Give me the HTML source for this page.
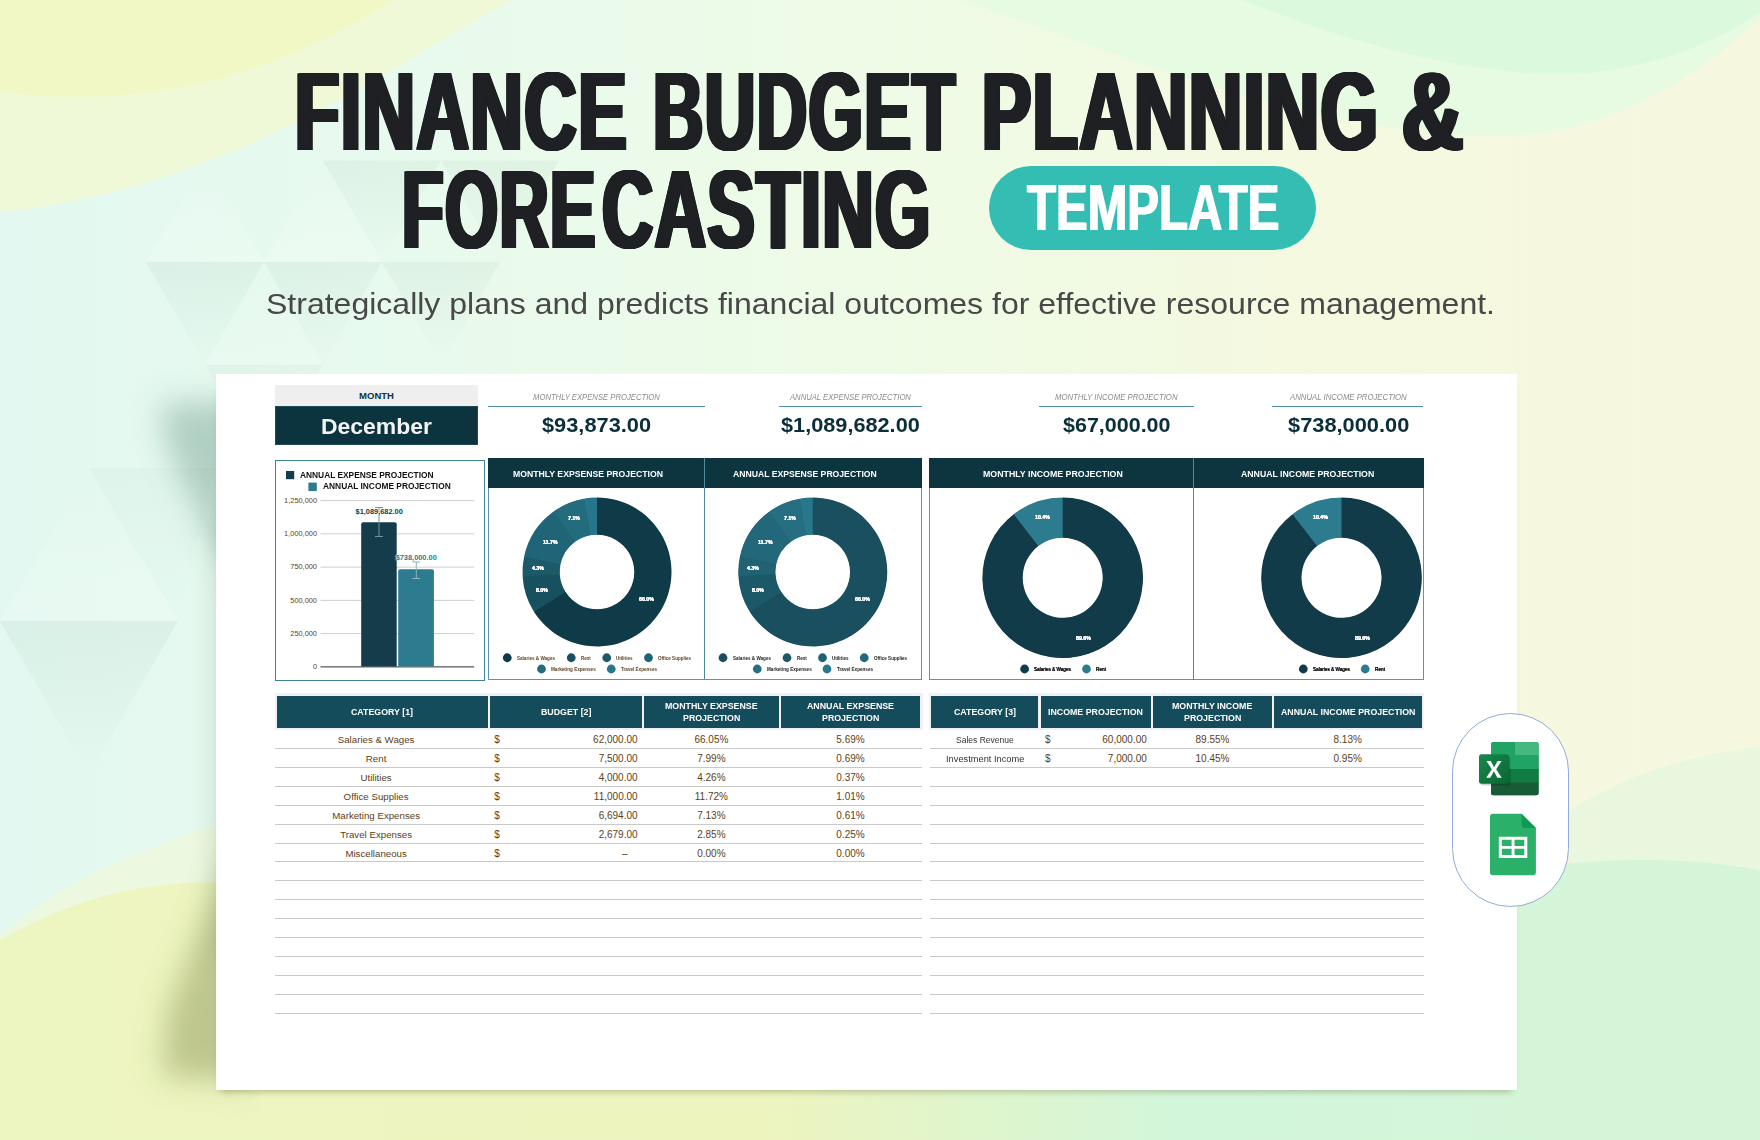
<!DOCTYPE html>
<html><head><meta charset="utf-8"><title>Finance Budget Planning &amp; Forecasting Template</title>
<style>
html,body{margin:0;padding:0}
body{width:1760px;height:1140px;overflow:hidden;position:relative;font-family:"Liberation Sans",sans-serif;background:#eefae8}
.abs,.t,svg.l{position:absolute}
.t{white-space:nowrap;line-height:1;transform-origin:0 50%}
.title{text-shadow:1px 0 0 #1f2024,-1px 0 0 #1f2024,2px 0 0 #1f2024,-2px 0 0 #1f2024,3px 0 0 #1f2024,-3px 0 0 #1f2024,3.7px 0 0 #1f2024,-3.7px 0 0 #1f2024}
.tmpl{text-shadow:1px 0 0 #fff,-1px 0 0 #fff}
.bd{text-shadow:.25px 0 0 currentColor,-.25px 0 0 currentColor}
.halo{text-shadow:0 0 1px #fff,0 0 1px #fff,0 0 2px #fff}
.hc{background:#154c5b}
.ln{position:absolute;height:1px;background:#c9c9c9}
</style></head><body>
<svg class="l" style="left:0;top:0" width="1760" height="1140" viewBox="0 0 1760 1140">
<defs>
<linearGradient id="base" x1="0" y1="0" x2="1" y2="0">
<stop offset="0" stop-color="#e2f8f0"/><stop offset="0.22" stop-color="#e8faee"/><stop offset="0.5" stop-color="#eefbe6"/><stop offset="0.72" stop-color="#f4f9e0"/><stop offset="1" stop-color="#f6f8de"/>
</linearGradient>
<linearGradient id="bot" gradientUnits="userSpaceOnUse" x1="0" y1="0" x2="1760" y2="0">
<stop offset="0" stop-color="#edf5c1"/><stop offset="0.43" stop-color="#eef4be"/><stop offset="0.67" stop-color="#d2f6da"/><stop offset="1" stop-color="#d6f5d8"/>
</linearGradient>
</defs>
<rect width="1760" height="1140" fill="url(#base)"/>
<path d="M0,0 H513 C400,60 230,190 0,212 Z" fill="#eff9d8"/>
<path d="M0,92 C100,104 240,100 393,0 L0,0 Z" fill="#f2f8c5"/>
<path d="M960,0 C1100,45 1300,136 1500,136 C1620,136 1715,62 1760,18 L1760,0 Z" fill="#e7fbe3"/>
<path d="M1243,0 C1330,35 1450,74 1560,74 C1650,73 1720,40 1760,12 L1760,0 Z" fill="#dbf9dc"/>
<path d="M1440,905 C1510,845 1590,792 1647,772.6 C1690,757 1730,750 1760,747 L1760,1140 L1440,1140 Z" fill="#e8f7de"/>
<path d="M0,934.7 C40,900 110,858 215,825 L700,700 L700,1140 L0,1140 Z" fill="#ecf8e0"/>
<path d="M0,940 C50,912 110,886 190,883 C500,872 900,880 1200,900 C1350,905 1480,862 1640,860 C1690,860 1730,864 1760,870.5 L1760,1140 L0,1140 Z" fill="url(#bot)"/>
<defs>
<linearGradient id="gd" x1="0" y1="0" x2="0" y2="1"><stop offset="0" stop-color="#5f8f7a" stop-opacity=".075"/><stop offset="1" stop-color="#5f8f7a" stop-opacity="0"/></linearGradient>
<linearGradient id="gu" x1="0" y1="1" x2="0" y2="0"><stop offset="0" stop-color="#fff" stop-opacity=".2"/><stop offset="1" stop-color="#fff" stop-opacity="0"/></linearGradient>
<linearGradient id="gy" x1="0" y1="0" x2="0" y2="1"><stop offset="0" stop-color="#8a9a50" stop-opacity=".10"/><stop offset="1" stop-color="#8a9a50" stop-opacity="0"/></linearGradient>
</defs>
<g>
<path d="M146,262 H264 L205,365 Z" fill="url(#gd)"/>
<path d="M264,262 H382 L323,365 Z" fill="url(#gd)"/>
<path d="M382,262 H500 L441,365 Z" fill="url(#gd)"/>
<path d="M323,160.5 H441 L382,262 Z" fill="url(#gd)"/>
<path d="M441,160.500 H559 L500,262 Z" fill="url(#gd)"/>
<path d="M205,365 H323 L264,467 Z" fill="url(#gd)" opacity=".6"/>
<path d="M146,262 L205,160.5 L264,262 Z" fill="url(#gu)"/>
<path d="M264,262 L323,160.5 L382,262 Z" fill="url(#gu)"/>
<path d="M205,365 L264,262 L323,365 Z" fill="url(#gu)" opacity=".6"/>
<path d="M0,621 H178 L89,775 Z" fill="url(#gd)"/>
<path d="M0,621 L89,468 L178,621 Z" fill="url(#gu)"/>
<path d="M89,468 H215 L178,621 Z" fill="url(#gd)" opacity=".5"/>
<path d="M1000,245 H1290 L1145,0 Z" fill="url(#gu)" opacity=".35"/>
</g>
</svg>
<svg class="l" style="left:0;top:0" width="260" height="1140" viewBox="0 0 260 1140">
<defs><filter id="bl" x="-60%" y="-20%" width="220%" height="140%"><feGaussianBlur stdDeviation="15"/></filter><filter id="bl2" x="-60%" y="-20%" width="220%" height="140%"><feGaussianBlur stdDeviation="9"/></filter></defs>
<path d="M250,400 L250,590 L212,540 L168,450 L160,404 Z" fill="#5c8c78" fill-opacity=".38" filter="url(#bl)"/>
<path d="M250,1082 L250,825 L212,900 L168,1010 L162,1076 Z" fill="#7a8540" fill-opacity=".42" filter="url(#bl)"/>
<rect x="208" y="520" width="30" height="440" fill="#5a7d5a" fill-opacity=".13" filter="url(#bl2)"/>
</svg>
<div class="abs" style="left:215.5px;top:374px;width:1301px;height:716px;background:#fff;box-shadow:0 6px 7px -5px rgba(90,100,40,.45)"></div>
<div class="abs" style="left:275px;top:385px;width:202.5px;height:21px;background:#efefef"></div>
<div class="abs" style="left:275px;top:406px;width:202.5px;height:38.5px;background:#0b343f;box-shadow:inset 0 0 0 1px #1d4a56"></div>
<div class="abs" style="left:488.2px;top:406px;width:216.5px;height:1px;background:#4c8fa3"></div>
<div class="abs" style="left:779.2px;top:406px;width:142.6px;height:1px;background:#4c8fa3"></div>
<div class="abs" style="left:1039px;top:406px;width:154.6px;height:1px;background:#4c8fa3"></div>
<div class="abs" style="left:1272.2px;top:406px;width:151.3px;height:1px;background:#4c8fa3"></div>
<div class="abs" style="left:275px;top:460px;width:208px;height:218.5px;border:1px solid #3f8398;background:#fff"></div>
<div class="abs" style="left:488px;top:458px;width:432.2px;height:219.8px;border:1px solid #5d95a6;background:#fff"></div>
<div class="abs" style="left:488px;top:458px;width:434.2px;height:30.3px;background:#0c3540"></div>
<div class="abs" style="left:704.2px;top:458px;width:1px;height:221px;background:#4f8a9c"></div>
<div class="abs" style="left:929px;top:458px;width:493.2px;height:220px;border:1px solid #5d95a6;background:#fff"></div>
<div class="abs" style="left:929px;top:458px;width:495.2px;height:30.3px;background:#0c3540"></div>
<div class="abs" style="left:1192.6px;top:458px;width:1px;height:221.5px;background:#4f8a9c"></div>
<svg class="l" style="left:0;top:0" width="1760" height="1140" viewBox="0 0 1760 1140">
<rect x="286" y="471" width="8.2" height="8.2" fill="#143c4a"/>
<rect x="308.4" y="482.6" width="8.4" height="8.4" fill="#2d7b8f"/>
<rect x="320.5" y="500.1" width="153.7" height="1" fill="#cfcfcf"/>
<rect x="320.5" y="533.36" width="153.7" height="1" fill="#cfcfcf"/>
<rect x="320.5" y="566.62" width="153.7" height="1" fill="#cfcfcf"/>
<rect x="320.5" y="599.88" width="153.7" height="1" fill="#cfcfcf"/>
<rect x="320.5" y="633.14" width="153.7" height="1" fill="#cfcfcf"/>
<rect x="320.5" y="666" width="153.7" height="1.6" fill="#7d7d7d"/>
<path d="M361.2,666.5 V524.2 a2,2 0 0 1 2,-2 H394.7 a2,2 0 0 1 2,2 V666.5 Z" fill="#143c4a"/>
<path d="M398.2,666.5 V571.2 a2,2 0 0 1 2,-2 H431.9 a2,2 0 0 1 2,2 V666.5 Z" fill="#2d7b8f"/>
<path d="M379,507.5 V536.5 M375,507.5 H383 M375,536.5 H383" stroke="#6f979f" stroke-width="1" fill="none"/>
<path d="M416.3,562 V578.5 M412.3,562 H420.3 M412.3,578.5 H420.3" stroke="#8db4bd" stroke-width="1" fill="none"/>
<circle cx="597" cy="572" r="55.875" fill="none" stroke="#1b5362" stroke-width="36.05"/>
<path d="M597,497.5 A74.5,74.5 0 1 1 533.98,611.73 L565.49,591.87 A37.25,37.25 0 1 0 597,534.75 Z" fill="#0f3a47"/>
<path d="M533.98,611.73 A74.5,74.5 0 0 1 522.64,576.51 L559.82,574.25 A37.25,37.25 0 0 0 565.49,591.87 Z" fill="#17505f"/>
<path d="M522.64,576.51 A74.5,74.5 0 0 1 524.09,556.68 L560.55,564.34 A37.25,37.25 0 0 0 559.82,574.25 Z" fill="#1c5a69"/>
<path d="M524.09,556.68 A74.5,74.5 0 0 1 553.27,511.69 L575.13,541.84 A37.25,37.25 0 0 0 560.55,564.34 Z" fill="#206577"/>
<path d="M553.27,511.69 A74.5,74.5 0 0 1 583.71,498.69 L590.36,535.35 A37.25,37.25 0 0 0 575.13,541.84 Z" fill="#236c7e"/>
<path d="M583.71,498.69 A74.5,74.5 0 0 1 597,497.5 L597,534.75 A37.25,37.25 0 0 0 590.36,535.35 Z" fill="#27758a"/>
<circle cx="812.75" cy="572" r="55.875" fill="none" stroke="#1b5362" stroke-width="36.05"/>
<path d="M812.75,497.5 A74.5,74.5 0 1 1 749.73,611.73 L781.24,591.87 A37.25,37.25 0 1 0 812.75,534.75 Z" fill="#194f5e"/>
<path d="M749.73,611.73 A74.5,74.5 0 0 1 738.39,576.51 L775.57,574.25 A37.25,37.25 0 0 0 781.24,591.87 Z" fill="#1c5968"/>
<path d="M738.39,576.51 A74.5,74.5 0 0 1 739.84,556.68 L776.3,564.34 A37.25,37.25 0 0 0 775.57,574.25 Z" fill="#206172"/>
<path d="M739.84,556.68 A74.5,74.5 0 0 1 769.02,511.69 L790.88,541.84 A37.25,37.25 0 0 0 776.3,564.34 Z" fill="#23687a"/>
<path d="M769.02,511.69 A74.5,74.5 0 0 1 799.46,498.69 L806.11,535.35 A37.25,37.25 0 0 0 790.88,541.84 Z" fill="#266f82"/>
<path d="M799.46,498.69 A74.5,74.5 0 0 1 812.75,497.5 L812.75,534.75 A37.25,37.25 0 0 0 806.11,535.35 Z" fill="#29778b"/>
<circle cx="1062.7" cy="577.8" r="60.15" fill="none" stroke="#113b49" stroke-width="39.099999999999994"/>
<path d="M1062.7,497.5 A80.3,80.3 0 1 1 1013.69,514.19 L1038.29,546.11 A40,40 0 1 0 1062.7,537.8 Z" fill="#113b49"/>
<path d="M1013.69,514.19 A80.3,80.3 0 0 1 1062.7,497.5 L1062.7,537.8 A40,40 0 0 0 1038.29,546.11 Z" fill="#2d7b8f"/>
<circle cx="1341.5" cy="577.8" r="60.15" fill="none" stroke="#113b49" stroke-width="39.099999999999994"/>
<path d="M1341.5,497.5 A80.3,80.3 0 1 1 1292.49,514.19 L1317.09,546.11 A40,40 0 1 0 1341.5,537.8 Z" fill="#113b49"/>
<path d="M1292.49,514.19 A80.3,80.3 0 0 1 1341.5,497.5 L1341.5,537.8 A40,40 0 0 0 1317.09,546.11 Z" fill="#2d7b8f"/>
<circle cx="507.25" cy="657.75" r="4.4" fill="#0f3a47"/>
<circle cx="571.25" cy="657.75" r="4.4" fill="#17505f"/>
<circle cx="606.75" cy="657.75" r="4.4" fill="#1c5a69"/>
<circle cx="648.5" cy="657.75" r="4.4" fill="#206577"/>
<circle cx="541.5" cy="669" r="4.4" fill="#236c7e"/>
<circle cx="611.25" cy="669" r="4.4" fill="#27758a"/>
<circle cx="723" cy="657.75" r="4.4" fill="#194f5e"/>
<circle cx="787" cy="657.75" r="4.4" fill="#1c5968"/>
<circle cx="822.5" cy="657.75" r="4.4" fill="#206172"/>
<circle cx="864.25" cy="657.75" r="4.4" fill="#23687a"/>
<circle cx="757.25" cy="669" r="4.4" fill="#266f82"/>
<circle cx="827" cy="669" r="4.4" fill="#29778b"/>
<circle cx="1024.6" cy="669" r="4.4" fill="#113b49"/>
<circle cx="1086.5" cy="669" r="4.4" fill="#2d7b8f"/>
<circle cx="1303.3" cy="669" r="4.4" fill="#113b49"/>
<circle cx="1365.2" cy="669" r="4.4" fill="#2d7b8f"/>
</svg>
<div class="abs" style="left:274.5px;top:692.7px;width:648.2px;height:37.5px;background:#f1f1f1"></div>
<div class="abs" style="left:929px;top:692.7px;width:495px;height:37.5px;background:#f1f1f1"></div>
<div class="abs hc" style="left:276.8px;top:695.6px;width:210.9px;height:32.4px"></div>
<div class="abs hc" style="left:490px;top:695.6px;width:151.8px;height:32.4px"></div>
<div class="abs hc" style="left:644.3px;top:695.6px;width:134.6px;height:32.4px"></div>
<div class="abs hc" style="left:781.1px;top:695.6px;width:139.4px;height:32.4px"></div>
<div class="abs hc" style="left:931.1px;top:695.6px;width:107.1px;height:32.4px"></div>
<div class="abs hc" style="left:1040.7px;top:695.6px;width:110.2px;height:32.4px"></div>
<div class="abs hc" style="left:1153.4px;top:695.6px;width:118.2px;height:32.4px"></div>
<div class="abs hc" style="left:1274.1px;top:695.6px;width:147.7px;height:32.4px"></div>
<div class="ln" style="left:275px;top:748px;width:646.8px"></div>
<div class="ln" style="left:929.5px;top:748px;width:494px"></div>
<div class="ln" style="left:275px;top:766.9px;width:646.8px"></div>
<div class="ln" style="left:929.5px;top:766.9px;width:494px"></div>
<div class="ln" style="left:275px;top:785.8px;width:646.8px"></div>
<div class="ln" style="left:929.5px;top:785.8px;width:494px"></div>
<div class="ln" style="left:275px;top:804.7px;width:646.8px"></div>
<div class="ln" style="left:929.5px;top:804.7px;width:494px"></div>
<div class="ln" style="left:275px;top:823.6px;width:646.8px"></div>
<div class="ln" style="left:929.5px;top:823.6px;width:494px"></div>
<div class="ln" style="left:275px;top:842.5px;width:646.8px"></div>
<div class="ln" style="left:929.5px;top:842.5px;width:494px"></div>
<div class="ln" style="left:275px;top:861.4px;width:646.8px"></div>
<div class="ln" style="left:929.5px;top:861.4px;width:494px"></div>
<div class="ln" style="left:275px;top:880.3px;width:646.8px"></div>
<div class="ln" style="left:929.5px;top:880.3px;width:494px"></div>
<div class="ln" style="left:275px;top:899.2px;width:646.8px"></div>
<div class="ln" style="left:929.5px;top:899.2px;width:494px"></div>
<div class="ln" style="left:275px;top:918.1px;width:646.8px"></div>
<div class="ln" style="left:929.5px;top:918.1px;width:494px"></div>
<div class="ln" style="left:275px;top:937px;width:646.8px"></div>
<div class="ln" style="left:929.5px;top:937px;width:494px"></div>
<div class="ln" style="left:275px;top:955.9px;width:646.8px"></div>
<div class="ln" style="left:929.5px;top:955.9px;width:494px"></div>
<div class="ln" style="left:275px;top:974.8px;width:646.8px"></div>
<div class="ln" style="left:929.5px;top:974.8px;width:494px"></div>
<div class="ln" style="left:275px;top:993.7px;width:646.8px"></div>
<div class="ln" style="left:929.5px;top:993.7px;width:494px"></div>
<div class="ln" style="left:275px;top:1012.6px;width:646.8px"></div>
<div class="ln" style="left:929.5px;top:1012.6px;width:494px"></div>
<div class="abs" style="left:1452px;top:713px;width:115px;height:192px;border:1px solid #93abd9;border-radius:58.5px;background:#fff"></div>
<svg class="l" style="left:1475px;top:738px" width="70" height="62" viewBox="0 0 70 62">
<defs><linearGradient id="xg" x1="0" y1="0" x2="1" y2="1"><stop offset="0" stop-color="#18884f"/><stop offset="1" stop-color="#0b6631"/></linearGradient></defs>
<rect x="16" y="4" width="47.6" height="53.3" rx="2.5" fill="#1a8a50"/>
<path d="M16,6.5 a2.5,2.5 0 0 1 2.500,-2.500 H40.3 V31.3 H16 Z" fill="#21a366"/>
<path d="M40,4 H61.1 a2.5,2.5 0 0 1 2.500,2.500 V17.500 H40 Z" fill="#45b880"/>
<rect x="40" y="17.3" width="23.6" height="14" fill="#21a366"/>
<rect x="16" y="31" width="47.6" height="13.800" fill="#107c41"/>
<path d="M16,44.5 H63.6 V54.8 a2.5,2.5 0 0 1 -2.500,2.500 H18.500 a2.5,2.5 0 0 1 -2.500,-2.500 Z" fill="#185c37"/>
<rect x="5.5" y="18" width="30" height="29.500" rx="2.500" fill="rgba(0,0,0,.18)"/>
<rect x="4" y="16.200" width="30" height="29.500" rx="2.500" fill="url(#xg)"/>
<path d="M11.500,23 h4.200 l3.400,6.300 l3.500,-6.300 h4 l-5.400,8.300 l5.500,8.400 h-4.300 l-3.500,-6.500 l-3.600,6.500 h-4.100 l5.600,-8.500 Z" fill="#fff"/>
</svg>
<svg class="l" style="left:1488px;top:812px" width="50" height="66" viewBox="0 0 50 66">
<path d="M2,4.800 a3,3 0 0 1 3,-3 H33.600 L47.900,16 V60.300 a3,3 0 0 1 -3,3 H5 a3,3 0 0 1 -3,-3 Z" fill="#2bb06a"/>
<path d="M33.600,1.800 L47.900,16 H36.600 a3,3 0 0 1 -3,-3 Z" fill="#0f9a54"/>
<path d="M10.800,24.700 H39.300 V46 H10.800 Z M13.800,27.700 V34 H23.600 V27.700 Z M26.500,27.700 V34 H36.300 V27.700 Z M13.800,36.800 V43 H23.600 V36.800 Z M26.500,36.800 V43 H36.300 V36.800 Z" fill="#fff" fill-rule="evenodd"/>
</svg>
<div class="abs" style="left:989.3px;top:165.7px;width:326.7px;height:84.3px;border-radius:42.2px;background:#33bdb3"></div>
<span class="t title" style="left:295.01px;top:56px;font-size:112px;color:#1f2024;font-weight:700;letter-spacing:2.5px;transform:scaleX(0.6467);">FINANCE</span>
<span class="t title" style="left:652.51px;top:56px;font-size:112px;color:#1f2024;font-weight:700;letter-spacing:2.5px;transform:scaleX(0.6220);">BUDGET</span>
<span class="t title" style="left:981.98px;top:56px;font-size:112px;color:#1f2024;font-weight:700;letter-spacing:2.5px;transform:scaleX(0.6572);">PLANNING</span>
<span class="t title" style="left:1402.27px;top:56px;font-size:112px;color:#1f2024;font-weight:700;letter-spacing:2.5px;transform:scaleX(0.7544);">&amp;</span>
<span class="t title" style="left:402.2px;top:154px;font-size:112px;color:#1f2024;font-weight:700;letter-spacing:2.5px;transform:scaleX(0.6072);">FORE</span>
<span class="t title" style="left:601.5px;top:154px;font-size:112px;color:#1f2024;font-weight:700;letter-spacing:2.5px;transform:scaleX(0.6324);">CASTING</span>
<span class="t tmpl" style="left:1027px;top:175.6px;font-size:64px;color:#fff;font-weight:700;transform:scaleX(0.7424);">TEMPLATE</span>
<span class="t" style="left:266.3px;top:288.6px;font-size:30px;color:#484848;transform:scaleX(1.0671);">Strategically plans and predicts financial outcomes for effective resource management.</span>
<span class="t" style="left:359.09px;top:391.05px;font-size:9.5px;color:#0b3440;font-weight:700;">MONTH</span>
<span class="t" style="left:321px;top:416px;font-size:22px;color:#f4f4f4;font-weight:700;transform:scaleX(1.0433);">December</span>
<span class="t" style="left:533.2px;top:392.6px;font-size:9px;color:#8a8a8a;font-style:italic;transform:scaleX(0.8536);">MONTHLY EXPENSE PROJECTION</span>
<span class="t" style="left:790px;top:392.6px;font-size:9px;color:#8a8a8a;font-style:italic;transform:scaleX(0.8522);">ANNUAL EXPENSE PROJECTION</span>
<span class="t" style="left:1055px;top:392.6px;font-size:9px;color:#8a8a8a;font-style:italic;transform:scaleX(0.8625);">MONTHLY INCOME PROJECTION</span>
<span class="t" style="left:1289.6px;top:392.6px;font-size:9px;color:#8a8a8a;font-style:italic;transform:scaleX(0.8621);">ANNUAL INCOME PROJECTION</span>
<span class="t" style="left:542.2px;top:414.8px;font-size:20.6px;color:#0b2f3a;font-weight:700;transform:scaleX(1.0584);">$93,873.00</span>
<span class="t" style="left:781.3px;top:414.8px;font-size:20.6px;color:#0b2f3a;font-weight:700;transform:scaleX(1.0539);">$1,089,682.00</span>
<span class="t" style="left:1062.7px;top:414.8px;font-size:20.6px;color:#0b2f3a;font-weight:700;transform:scaleX(1.0429);">$67,000.00</span>
<span class="t" style="left:1287.7px;top:414.8px;font-size:20.6px;color:#0b2f3a;font-weight:700;transform:scaleX(1.0591);">$738,000.00</span>
<span class="t" style="left:513px;top:468.6px;font-size:9.8px;color:#fff;font-weight:700;transform:scaleX(0.8859);">MONTHLY EXPSENSE PROJECTION</span>
<span class="t" style="left:732.5px;top:468.6px;font-size:9.8px;color:#fff;font-weight:700;transform:scaleX(0.8811);">ANNUAL EXPSENSE PROJECTION</span>
<span class="t" style="left:983.2px;top:468.7px;font-size:9.8px;color:#fff;font-weight:700;transform:scaleX(0.8980);">MONTHLY INCOME PROJECTION</span>
<span class="t" style="left:1241.2px;top:468.7px;font-size:9.8px;color:#fff;font-weight:700;transform:scaleX(0.8909);">ANNUAL INCOME PROJECTION</span>
<span class="t" style="left:300.3px;top:470.6px;font-size:8.8px;color:#111;font-weight:700;transform:scaleX(0.9500);">ANNUAL EXPENSE PROJECTION</span>
<span class="t" style="left:322.9px;top:482.2px;font-size:8.8px;color:#111;font-weight:700;transform:scaleX(0.9512);">ANNUAL INCOME PROJECTION</span>
<span class="t" style="left:284.11px;top:496.9px;font-size:7.4px;color:#5c3e20;">1,250,000</span>
<span class="t" style="left:284.11px;top:530.16px;font-size:7.4px;color:#5c3e20;">1,000,000</span>
<span class="t" style="left:290.28px;top:563.42px;font-size:7.4px;color:#5c3e20;">750,000</span>
<span class="t" style="left:290.28px;top:596.68px;font-size:7.4px;color:#5c3e20;">500,000</span>
<span class="t" style="left:290.28px;top:629.94px;font-size:7.4px;color:#5c3e20;">250,000</span>
<span class="t" style="left:312.88px;top:663.2px;font-size:7.4px;color:#5c3e20;">0</span>
<span class="t halo" style="left:355.57px;top:507.8px;font-size:7.4px;color:#143c4a;font-weight:700;">$1,089,682.00</span>
<span class="t halo" style="left:395.65px;top:554.3px;font-size:7.4px;color:#2d7b8f;font-weight:700;">$738,000.00</span>
<span class="t bd" style="left:638.83px;top:597.3px;font-size:5.7px;color:#fff;font-weight:700;transform:scaleX(0.9200);">66.0%</span>
<span class="t bd" style="left:535.78px;top:588.05px;font-size:5.7px;color:#fff;font-weight:700;transform:scaleX(0.9200);">8.0%</span>
<span class="t bd" style="left:531.53px;top:565.8px;font-size:5.7px;color:#fff;font-weight:700;transform:scaleX(0.9200);">4.3%</span>
<span class="t bd" style="left:542.73px;top:539.55px;font-size:5.7px;color:#fff;font-weight:700;transform:scaleX(0.9200);">11.7%</span>
<span class="t bd" style="left:567.78px;top:515.55px;font-size:5.7px;color:#fff;font-weight:700;transform:scaleX(0.9200);">7.1%</span>
<span class="t" style="left:517px;top:655.8px;font-size:5.6px;color:#5c3e20;font-weight:700;transform:scaleX(0.8183);">Salaries &amp; Wages</span>
<span class="t" style="left:580.75px;top:655.8px;font-size:5.6px;color:#5c3e20;font-weight:700;transform:scaleX(0.7839);">Rent</span>
<span class="t" style="left:616px;top:655.8px;font-size:5.6px;color:#5c3e20;font-weight:700;transform:scaleX(0.8161);">Utilities</span>
<span class="t" style="left:658px;top:655.8px;font-size:5.6px;color:#5c3e20;font-weight:700;transform:scaleX(0.8104);">Office Supplies</span>
<span class="t" style="left:551px;top:666.7px;font-size:5.6px;color:#5c3e20;font-weight:700;transform:scaleX(0.8270);">Marketing Expenses</span>
<span class="t" style="left:621px;top:666.7px;font-size:5.6px;color:#5c3e20;font-weight:700;transform:scaleX(0.8208);">Travel Expenses</span>
<span class="t bd" style="left:854.58px;top:597.3px;font-size:5.7px;color:#fff;font-weight:700;transform:scaleX(0.9200);">66.0%</span>
<span class="t bd" style="left:751.53px;top:588.05px;font-size:5.7px;color:#fff;font-weight:700;transform:scaleX(0.9200);">8.0%</span>
<span class="t bd" style="left:747.28px;top:565.8px;font-size:5.7px;color:#fff;font-weight:700;transform:scaleX(0.9200);">4.3%</span>
<span class="t bd" style="left:758.48px;top:539.55px;font-size:5.7px;color:#fff;font-weight:700;transform:scaleX(0.9200);">11.7%</span>
<span class="t bd" style="left:783.53px;top:515.55px;font-size:5.7px;color:#fff;font-weight:700;transform:scaleX(0.9200);">7.1%</span>
<span class="t" style="left:732.75px;top:655.8px;font-size:5.6px;color:#1a1a1a;font-weight:700;transform:scaleX(0.8183);">Salaries &amp; Wages</span>
<span class="t" style="left:796.5px;top:655.8px;font-size:5.6px;color:#1a1a1a;font-weight:700;transform:scaleX(0.7839);">Rent</span>
<span class="t" style="left:831.75px;top:655.8px;font-size:5.6px;color:#1a1a1a;font-weight:700;transform:scaleX(0.8161);">Utilities</span>
<span class="t" style="left:873.75px;top:655.8px;font-size:5.6px;color:#1a1a1a;font-weight:700;transform:scaleX(0.8104);">Office Supplies</span>
<span class="t" style="left:766.75px;top:666.7px;font-size:5.6px;color:#1a1a1a;font-weight:700;transform:scaleX(0.8270);">Marketing Expenses</span>
<span class="t" style="left:836.75px;top:666.7px;font-size:5.6px;color:#1a1a1a;font-weight:700;transform:scaleX(0.8208);">Travel Expenses</span>
<span class="t bd" style="left:1034.58px;top:515.05px;font-size:5.7px;color:#fff;font-weight:700;transform:scaleX(0.9200);">10.4%</span>
<span class="t bd" style="left:1075.98px;top:636.05px;font-size:5.7px;color:#fff;font-weight:700;transform:scaleX(0.9200);">89.6%</span>
<span class="t bd" style="left:1034px;top:666.75px;font-size:5.7px;color:#111;transform:scaleX(0.8178);">Salaries &amp; Wages</span>
<span class="t bd" style="left:1096px;top:666.75px;font-size:5.7px;color:#111;transform:scaleX(0.8322);">Rent</span>
<span class="t bd" style="left:1313.38px;top:515.05px;font-size:5.7px;color:#fff;font-weight:700;transform:scaleX(0.9200);">10.4%</span>
<span class="t bd" style="left:1354.78px;top:636.05px;font-size:5.7px;color:#fff;font-weight:700;transform:scaleX(0.9200);">89.6%</span>
<span class="t bd" style="left:1312.8px;top:666.75px;font-size:5.7px;color:#111;transform:scaleX(0.8178);">Salaries &amp; Wages</span>
<span class="t bd" style="left:1374.8px;top:666.75px;font-size:5.7px;color:#111;transform:scaleX(0.8322);">Rent</span>
<span class="t" style="left:351.49px;top:707.1px;font-size:9.4px;color:#fff;font-weight:700;transform:scaleX(0.9400);">CATEGORY [1]</span>
<span class="t" style="left:540.78px;top:707.1px;font-size:9.4px;color:#fff;font-weight:700;transform:scaleX(0.9400);">BUDGET [2]</span>
<span class="t" style="left:665.32px;top:701px;font-size:9.4px;color:#fff;font-weight:700;transform:scaleX(0.9400);">MONTHLY EXPSENSE</span>
<span class="t" style="left:682.95px;top:712.9px;font-size:9.4px;color:#fff;font-weight:700;transform:scaleX(0.9400);">PROJECTION</span>
<span class="t" style="left:807.3px;top:701px;font-size:9.4px;color:#fff;font-weight:700;transform:scaleX(0.9400);">ANNUAL EXPSENSE</span>
<span class="t" style="left:822.15px;top:712.9px;font-size:9.4px;color:#fff;font-weight:700;transform:scaleX(0.9400);">PROJECTION</span>
<span class="t" style="left:953.69px;top:707.1px;font-size:9.4px;color:#fff;font-weight:700;transform:scaleX(0.9400);">CATEGORY [3]</span>
<span class="t" style="left:1048.3px;top:707.1px;font-size:9.4px;color:#fff;font-weight:700;transform:scaleX(0.9400);">INCOME PROJECTION</span>
<span class="t" style="left:1172.35px;top:701px;font-size:9.4px;color:#fff;font-weight:700;transform:scaleX(0.9400);">MONTHLY INCOME</span>
<span class="t" style="left:1183.85px;top:712.9px;font-size:9.4px;color:#fff;font-weight:700;transform:scaleX(0.9400);">PROJECTION</span>
<span class="t" style="left:1280.75px;top:707.1px;font-size:9.4px;color:#fff;font-weight:700;transform:scaleX(0.9400);">ANNUAL INCOME PROJECTION</span>
<span class="t" style="left:337.78px;top:735.35px;font-size:9.7px;color:#5c3e20;">Salaries &amp; Wages</span>
<span class="t" style="left:494.32px;top:735.2px;font-size:10px;color:#5c3e20;">$</span>
<span class="t" style="left:593.1px;top:735.2px;font-size:10px;color:#5c3e20;">62,000.00</span>
<span class="t" style="left:694.44px;top:735.2px;font-size:10px;color:#5c3e20;">66.05%</span>
<span class="t" style="left:836.32px;top:735.2px;font-size:10px;color:#5c3e20;">5.69%</span>
<span class="t" style="left:365.87px;top:754.25px;font-size:9.7px;color:#5c3e20;">Rent</span>
<span class="t" style="left:494.32px;top:754.1px;font-size:10px;color:#5c3e20;">$</span>
<span class="t" style="left:598.66px;top:754.1px;font-size:10px;color:#5c3e20;">7,500.00</span>
<span class="t" style="left:697.22px;top:754.1px;font-size:10px;color:#5c3e20;">7.99%</span>
<span class="t" style="left:836.32px;top:754.1px;font-size:10px;color:#5c3e20;">0.69%</span>
<span class="t" style="left:360.48px;top:773.15px;font-size:9.7px;color:#5c3e20;">Utilities</span>
<span class="t" style="left:494.32px;top:773px;font-size:10px;color:#5c3e20;">$</span>
<span class="t" style="left:598.66px;top:773px;font-size:10px;color:#5c3e20;">4,000.00</span>
<span class="t" style="left:697.22px;top:773px;font-size:10px;color:#5c3e20;">4.26%</span>
<span class="t" style="left:836.32px;top:773px;font-size:10px;color:#5c3e20;">0.37%</span>
<span class="t" style="left:343.61px;top:792.05px;font-size:9.7px;color:#5c3e20;">Office Supplies</span>
<span class="t" style="left:494.32px;top:791.9px;font-size:10px;color:#5c3e20;">$</span>
<span class="t" style="left:593.85px;top:791.9px;font-size:10px;color:#5c3e20;">11,000.00</span>
<span class="t" style="left:694.81px;top:791.9px;font-size:10px;color:#5c3e20;">11.72%</span>
<span class="t" style="left:836.32px;top:791.9px;font-size:10px;color:#5c3e20;">1.01%</span>
<span class="t" style="left:332.21px;top:810.95px;font-size:9.7px;color:#5c3e20;">Marketing Expenses</span>
<span class="t" style="left:494.32px;top:810.8px;font-size:10px;color:#5c3e20;">$</span>
<span class="t" style="left:598.66px;top:810.8px;font-size:10px;color:#5c3e20;">6,694.00</span>
<span class="t" style="left:697.22px;top:810.8px;font-size:10px;color:#5c3e20;">7.13%</span>
<span class="t" style="left:836.32px;top:810.8px;font-size:10px;color:#5c3e20;">0.61%</span>
<span class="t" style="left:340.2px;top:829.85px;font-size:9.7px;color:#5c3e20;">Travel Expenses</span>
<span class="t" style="left:494.32px;top:829.7px;font-size:10px;color:#5c3e20;">$</span>
<span class="t" style="left:598.66px;top:829.7px;font-size:10px;color:#5c3e20;">2,679.00</span>
<span class="t" style="left:697.22px;top:829.7px;font-size:10px;color:#5c3e20;">2.85%</span>
<span class="t" style="left:836.32px;top:829.7px;font-size:10px;color:#5c3e20;">0.25%</span>
<span class="t" style="left:345.4px;top:848.75px;font-size:9.7px;color:#5c3e20;">Miscellaneous</span>
<span class="t" style="left:494.32px;top:848.6px;font-size:10px;color:#5c3e20;">$</span>
<span class="t" style="left:621.92px;top:848.6px;font-size:10px;color:#5c3e20;">–</span>
<span class="t" style="left:697.22px;top:848.6px;font-size:10px;color:#5c3e20;">0.00%</span>
<span class="t" style="left:836.32px;top:848.6px;font-size:10px;color:#5c3e20;">0.00%</span>
<span class="t" style="left:955.7px;top:735.4px;font-size:9.6px;color:#333;transform:scaleX(0.8866);">Sales Revenue</span>
<span class="t" style="left:1044.92px;top:735.2px;font-size:10px;color:#5c3e20;">$</span>
<span class="t" style="left:1102.3px;top:735.2px;font-size:10px;color:#5c3e20;">60,000.00</span>
<span class="t" style="left:1195.54px;top:735.2px;font-size:10px;color:#5c3e20;">89.55%</span>
<span class="t" style="left:1333.52px;top:735.2px;font-size:10px;color:#5c3e20;">8.13%</span>
<span class="t" style="left:945.5px;top:754.3px;font-size:9.6px;color:#333;transform:scaleX(0.9672);">Investment Income</span>
<span class="t" style="left:1044.92px;top:754.1px;font-size:10px;color:#5c3e20;">$</span>
<span class="t" style="left:1107.86px;top:754.1px;font-size:10px;color:#5c3e20;">7,000.00</span>
<span class="t" style="left:1195.54px;top:754.1px;font-size:10px;color:#5c3e20;">10.45%</span>
<span class="t" style="left:1333.52px;top:754.1px;font-size:10px;color:#5c3e20;">0.95%</span>
</body></html>
